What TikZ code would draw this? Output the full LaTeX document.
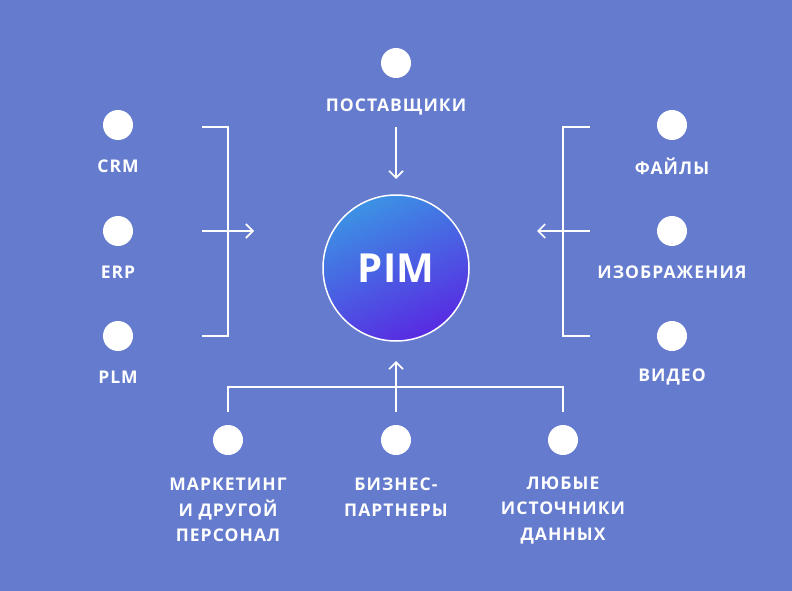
\documentclass[tikz,border=0pt]{standalone}
\usepackage{fontspec}
\setmainfont{Open Sans}
\usepackage{xcolor}
\usetikzlibrary{arrows.meta}
\definecolor{bg}{RGB}{100,123,206}
\definecolor{pimtop}{RGB}{60,146,228}
\definecolor{pimbot}{RGB}{88,42,226}
\tikzstyle{dot} = [circle, fill=white, minimum size=30pt, inner sep=0pt]
\tikzstyle{lbl} = [text=white, font=\bfseries\fontsize{17.5}{25.5}\selectfont\addfontfeatures{LetterSpace=6}, align=center, inner sep=0pt]
\tikzstyle{pim} = [circle, draw=white, line width=1.5pt, minimum size=146pt, inner sep=0pt, top color=pimtop, bottom color=pimbot, shading angle=25, text=white, font=\bfseries\fontsize{40}{40}\selectfont]

\begin{document}
\begin{tikzpicture}[x=1pt,y=-1pt,->,>={Straight Barb[length=7pt,width=14pt]},line width=1.6pt,white,node distance=41pt]
  \fill[bg] (0,0) rectangle (792,591);

  \node[pim] (pim) at (396,268) {PIM};

  \node[dot] (post) at (396,63) {};
  \node[lbl] (post_t) [below of=post, node distance=44pt] {ПОСТАВЩИКИ};

  \node[dot] (crm) at (118,125) {};
  \node[lbl] (crm_t) [below of=crm] {CRM};
  \node[dot] (erp) at (118,231) {};
  \node[lbl] (erp_t) [below of=erp] {ERP};
  \node[dot] (plm) at (118,336) {};
  \node[lbl] (plm_t) [below of=plm] {PLM};

  \node[dot] (files) at (672,125) {};
  \node[lbl] (files_t) [below of=files] {ФАЙЛЫ};
  \node[dot] (img) at (672,231) {};
  \node[lbl] (img_t) [below of=img] {ИЗОБРАЖЕНИЯ};
  \node[dot] (video) at (672,336) {};
  \node[lbl] (video_t) [below of=video] {ВИДЕО};

  \node[dot] (mkt) at (228,440) {};
  \node[lbl] (mkt_t) [below of=mkt, node distance=70pt] {МАРКЕТИНГ\\И ДРУГОЙ\\ПЕРСОНАЛ};
  \node[dot] (biz) at (396,440) {};
  \node[lbl] (biz_t) [below of=biz, node distance=57pt] {БИЗНЕС-\\ПАРТНЕРЫ};
  \node[dot] (any) at (563,440) {};
  \node[lbl] (any_t) [below of=any, node distance=70pt] {ЛЮБЫЕ\\ИСТОЧНИКИ\\ДАННЫХ};

  \coordinate (l_top) at (202,127);
  \coordinate (l_bot) at (202,336);
  \coordinate (l_in) at (202,231);
  \coordinate (l_tip) at (254,231);
  \coordinate (r_top) at (590,127);
  \coordinate (r_bot) at (590,336);
  \coordinate (r_in) at (590,231);
  \coordinate (r_tip) at (537,231);
  \coordinate (t_in) at (396,127);
  \coordinate (t_tip) at (396,179);
  \coordinate (b_left) at (228,412);
  \coordinate (b_right) at (563,412);
  \coordinate (b_in) at (396,412);
  \coordinate (b_tip) at (396,361);

  \draw[-] (l_top) -- ++(26,0) |- (l_bot);
  \draw (l_in) -- (l_tip);
  \draw[-] (r_top) -- ++(-27,0) |- (r_bot);
  \draw (r_in) -- (r_tip);
  \draw (t_in) -- (t_tip);
  \draw[-] (b_left) |- (396,387) -| (b_right);
  \draw (b_in) -- (b_tip);
\end{tikzpicture}
\end{document}
